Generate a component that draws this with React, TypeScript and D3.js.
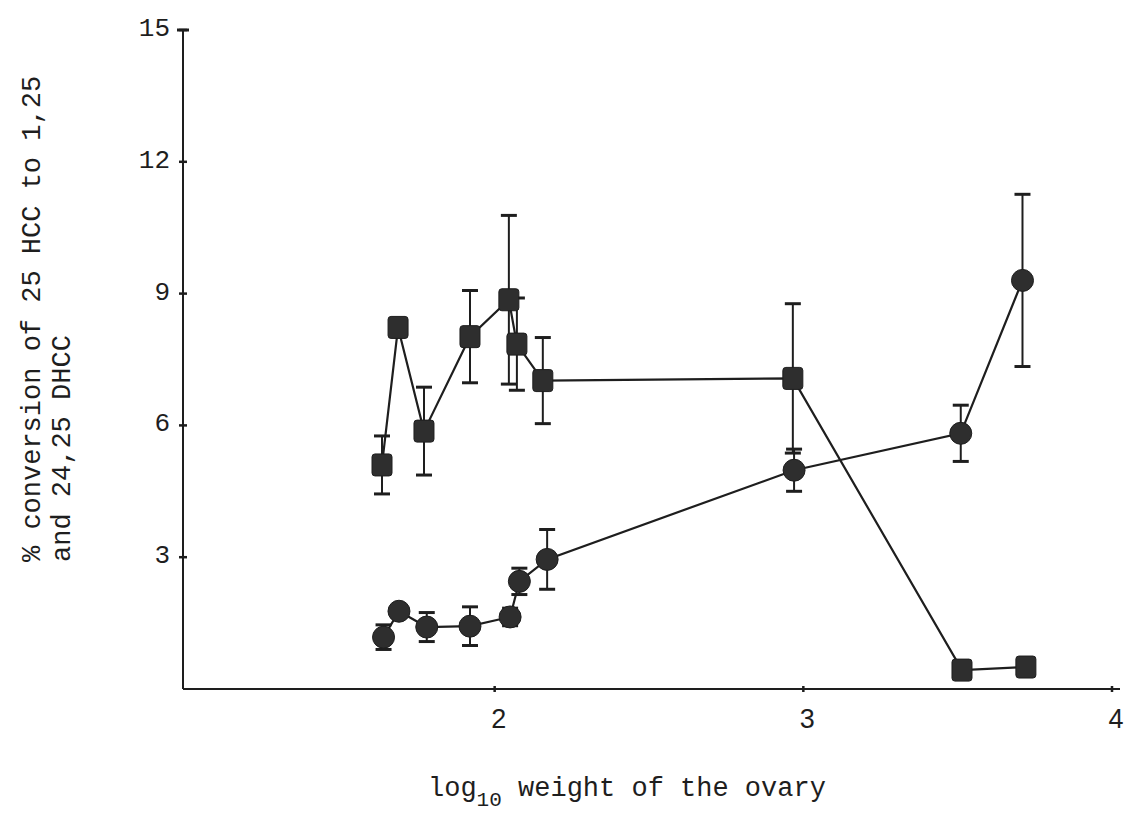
import React from "react";
import * as d3 from "d3";

// log10 ovary weight and % conversion, mean ± error
const circleX = [1.64, 1.69, 1.78, 1.92, 2.05, 2.08, 2.17, 2.97, 3.51, 3.71];
const circleY = [1.18, 1.77, 1.41, 1.43, 1.64, 2.45, 2.95, 4.98, 5.82, 9.3];
const circleErr = [0.28, 0, 0.33, 0.44, 0.2, 0.3, 0.68, 0.48, 0.64, 1.96];

const squareX = [1.635, 1.687, 1.771, 1.92, 2.046, 2.072, 2.156, 2.966, 3.514, 3.721];
const squareY = [5.1, 8.23, 5.87, 8.02, 8.86, 7.85, 7.02, 7.07, 0.43, 0.5];
const squareErr = [0.66, 0, 1.0, 1.05, 1.92, 1.05, 0.98, 1.7, 0, 0];

const yTicks = [3, 6, 9, 12, 15];
const xTicks = [2, 3, 4];

const W = 1133;
const H = 817;
const INK = "#1e1e1e";
const MARK = "#2e2e2e";
const MONO = "'Liberation Mono', 'DejaVu Sans Mono', monospace";

export default function App() {
  const x = d3.scaleLinear().domain([1, 4]).range([186, 1112]);
  const y = d3.scaleLinear().domain([0, 15]).range([689, 30]);
  const axisX0 = 183;

  const line = d3
    .line<[number, number]>()
    .x((d) => x(d[0]))
    .y((d) => y(d[1]));

  const circles = circleX.map((v, i) => ({ x: v, y: circleY[i], e: circleErr[i] }));
  const squares = squareX.map((v, i) => ({ x: v, y: squareY[i], e: squareErr[i] }));

  const errBars = (pts: { x: number; y: number; e: number }[], key: string) =>
    pts
      .filter((p) => p.e > 0)
      .map((p, i) => {
        const cx = x(p.x);
        const top = y(p.y + p.e);
        const bot = y(p.y - p.e);
        return (
          <g key={key + i} stroke={INK}>
            <line x1={cx} x2={cx} y1={top} y2={bot} strokeWidth={2} />
            <line x1={cx - 8} x2={cx + 8} y1={top} y2={top} strokeWidth={3} />
            <line x1={cx - 8} x2={cx + 8} y1={bot} y2={bot} strokeWidth={3} />
          </g>
        );
      });

  return (
    <svg
      width={W}
      height={H}
      style={{ position: "absolute", left: 0, top: 0, background: "#fff" }}
    >
      <rect width={W} height={H} fill="#fff" />

      {/* axes */}
      <g stroke={INK} strokeWidth={2} fill="none">
        <line x1={axisX0} x2={axisX0} y1={y(15)} y2={y(0)} />
        <line x1={axisX0} x2={1120} y1={y(0)} y2={y(0)} />
        {yTicks.map((t) => (
          <line key={"yt" + t} x1={axisX0 - 4} x2={axisX0 + 4} y1={y(t)} y2={y(t)} strokeWidth={2.5} />
        ))}
        <line x1={axisX0 - 6} x2={axisX0 + 6} y1={y(15)} y2={y(15)} strokeWidth={3} />
        {xTicks.map((t) => (
          <line key={"xt" + t} x1={x(t)} x2={x(t)} y1={y(0) - 3} y2={y(0) + 3} strokeWidth={2.5} />
        ))}
      </g>

      {/* y tick labels */}
      <g fontFamily={MONO} fontSize={26} fill={INK} textAnchor="end">
        {yTicks.map((t) => (
          <text key={"yl" + t} x={170} y={y(t) + 6}>
            {t}
          </text>
        ))}
      </g>

      {/* x tick labels */}
      <g fontFamily="'Liberation Sans', Arial, sans-serif" fontSize={27} fill={INK} textAnchor="middle">
        {xTicks.map((t) => (
          <text key={"xl" + t} x={x(t) + 4} y={728}>
            {t}
          </text>
        ))}
      </g>

      {/* axis titles */}
      <text fontFamily={MONO} fontSize={27} fill={INK} x={428} y={796}>
        log
        <tspan fontSize={21} dy={10}>10</tspan>
        <tspan dy={-10}> weight of the ovary</tspan>
      </text>
      <g transform="translate(40, 562) rotate(-90)" fontFamily={MONO} fontSize={27} fill={INK}>
        <text x={0} y={0}>% conversion of 25 HCC to 1,25</text>
        <text x={0} y={30}>and 24,25 DHCC</text>
      </g>

      {/* connecting lines */}
      <path
        d={line(squares.map((p) => [p.x, p.y] as [number, number])) || ""}
        fill="none"
        stroke={INK}
        strokeWidth={2.2}
      />
      <path
        d={line(circles.map((p) => [p.x, p.y] as [number, number])) || ""}
        fill="none"
        stroke={INK}
        strokeWidth={2.2}
      />

      {errBars(squares, "se")}
      {errBars(circles, "ce")}

      {/* markers */}
      {squares.map((p, i) => (
        <rect
          key={"sq" + i}
          x={x(p.x) - 10}
          y={y(p.y) - 11}
          width={20}
          height={22}
          rx={3}
          fill={MARK}
          stroke={INK}
          strokeWidth={1}
        />
      ))}
      {circles.map((p, i) => (
        <circle key={"ci" + i} cx={x(p.x)} cy={y(p.y)} r={11} fill={MARK} stroke={INK} strokeWidth={1} />
      ))}
    </svg>
  );
}
